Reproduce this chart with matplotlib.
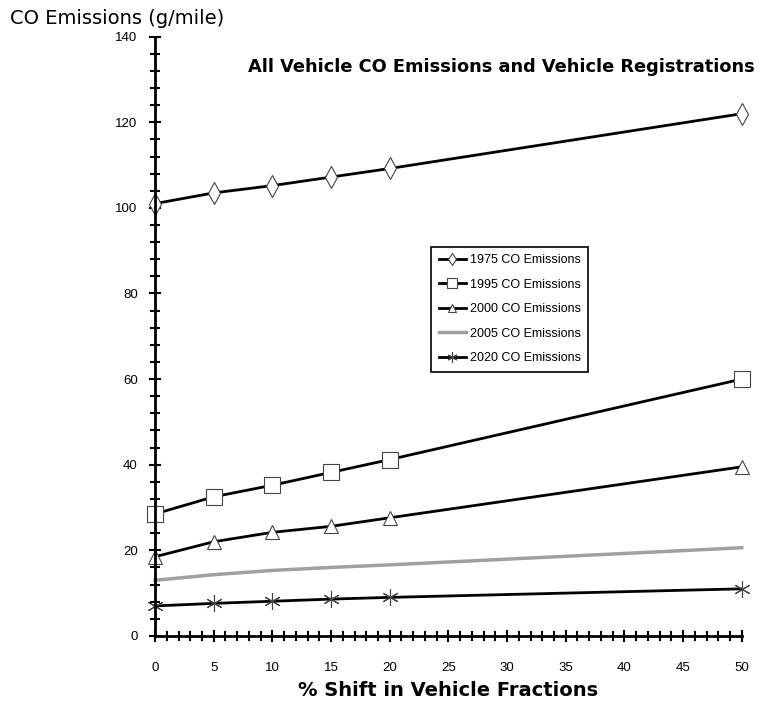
import numpy as np
import matplotlib.pyplot as plt
from matplotlib.ticker import MultipleLocator

# % shift in vehicle fractions
shift = [0, 5, 10, 15, 20, 50]

co_1975 = [101.0, 103.5, 105.2, 107.2, 109.2, 122.0]
co_1995 = [28.5, 32.5, 35.2, 38.2, 41.2, 60.0]
co_2000 = [18.5, 22.0, 24.2, 25.6, 27.6, 39.5]
co_2005 = [13.0, 14.3, 15.3, 16.0, 16.6, 20.6]
co_2020 = [7.0, 7.6, 8.1, 8.6, 9.0, 11.0]

labels = ["1975 CO Emissions", "1995 CO Emissions", "2000 CO Emissions",
          "2005 CO Emissions", "2020 CO Emissions"]

plt.rcParams['font.family'] = ['Liberation Sans', 'DejaVu Sans']
head = ['DejaVu Sans']

fig = plt.figure(figsize=(7.6, 7.05), dpi=100)
ax = fig.add_axes([0.204, 0.098, 0.772, 0.85])

mk = dict(markerfacecolor='white', markeredgecolor='#444444', markeredgewidth=0.8)
ax.plot(shift, co_1975, color='black', lw=2, marker='d', ms=11, label=labels[0], **mk)
ax.plot(shift, co_1995, color='black', lw=2, marker='s', ms=11, label=labels[1], **mk)
ax.plot(shift, co_2000, color='black', lw=2, marker='^', ms=10, label=labels[2], **mk)
ax.plot(shift, co_2005, color='#a0a0a0', lw=2.5, label=labels[3])
ax.plot(shift, co_2020, color='black', lw=2, marker=(6, 2, 0), ms=12,
        markeredgecolor='#444444', markeredgewidth=0.8, label=labels[4])

ax.set_xlim(0, 50)
ax.set_ylim(0, 140)
ax.xaxis.set_major_locator(MultipleLocator(5))
ax.xaxis.set_minor_locator(MultipleLocator(1))
ax.yaxis.set_major_locator(MultipleLocator(20))
ax.yaxis.set_minor_locator(MultipleLocator(4))
ax.tick_params(which='both', direction='inout', width=1.5, labelsize=9.5)
ax.tick_params(which='major', length=9)
ax.tick_params(which='minor', length=7)
ax.tick_params(axis='x', pad=14)
ax.tick_params(axis='y', pad=8)
for s in ['top', 'right']:
    ax.spines[s].set_visible(False)
for s in ['left', 'bottom']:
    ax.spines[s].set_linewidth(2)
for ln in ax.lines:
    ln.set_clip_on(False)

ax.set_xlabel("% Shift in Vehicle Fractions", fontsize=14, fontweight='bold',
              family=head, labelpad=5)
fig.text(0.013, 0.974, "CO Emissions (g/mile)", fontsize=14,
         family=head, va='center')
ax.text(1.022, 0.95, "All Vehicle CO Emissions and Vehicle Registrations",
        transform=ax.transAxes, ha='right', va='center', fontsize=12.8,
        fontweight='bold', family=head)

leg = ax.legend(loc='upper left', bbox_to_anchor=(0.46, 0.66), fontsize=9,
                fancybox=False, edgecolor='black', framealpha=1,
                handlelength=2.2, labelspacing=1.0, borderpad=0.6,
                handletextpad=0.3, markerscale=0.6)
leg.get_frame().set_linewidth(1.2)

fig.savefig("out.png", dpi=100)
